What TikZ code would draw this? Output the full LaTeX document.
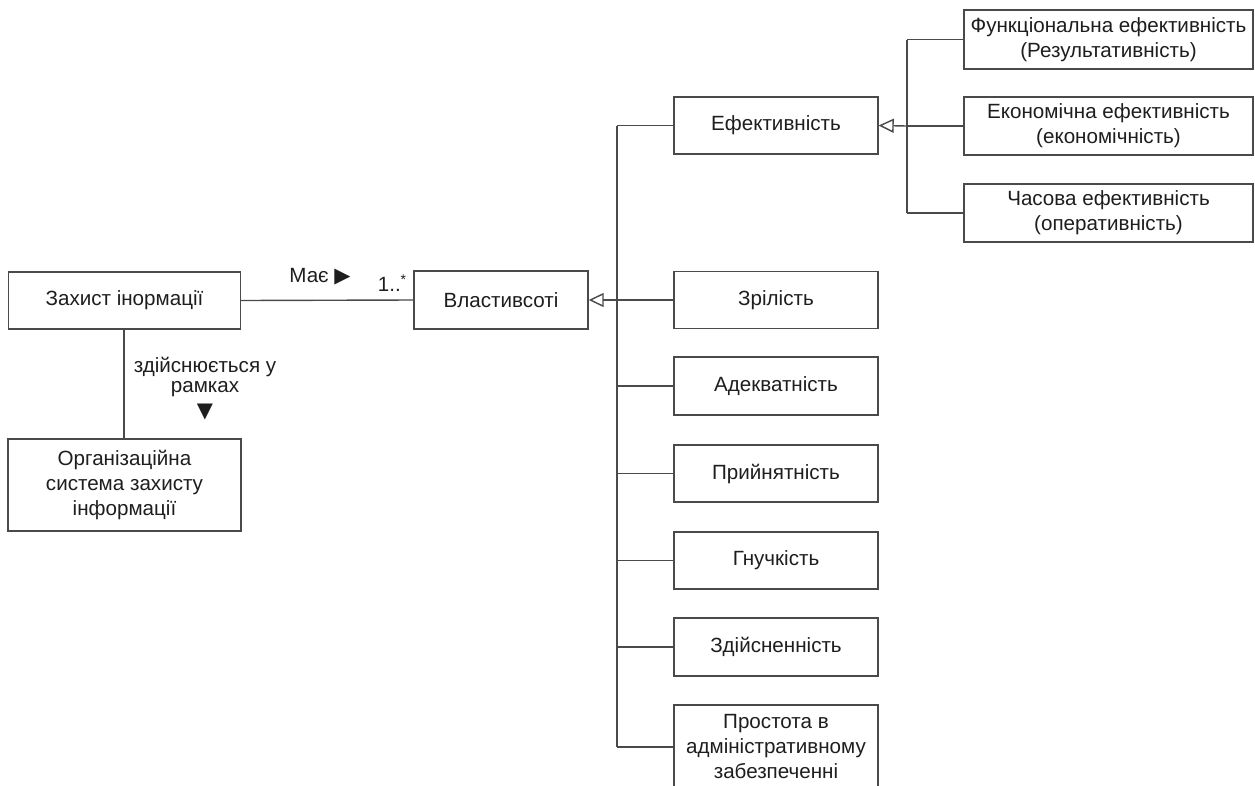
\documentclass[tikz,border=0pt]{standalone}
\usepackage{fontspec}
\setmainfont{Liberation Sans}
\newfontfamily\symfont{DejaVu Sans}
\usetikzlibrary{arrows.meta}
\definecolor{linecol}{HTML}{4A4A4A}
\definecolor{textcol}{HTML}{1E1E1E}
\tikzset{
  box/.style={draw=linecol, line width=1.4pt, fill=white, rectangle, align=center,
    inner sep=0pt, text=textcol, font=\fontsize{20.6}{25}\selectfont},
  conn/.style={draw=linecol, line width=1.4pt},
  gen/.style={conn, -{Triangle[open, length=15pt, width=14pt, line width=1.4pt]}},
  lbl/.style={text=textcol, font=\fontsize{20.6}{25}\selectfont, inner sep=0pt, align=center}
}
\begin{document}
\begin{tikzpicture}[x=1pt,y=-1pt]
\useasboundingbox (0,0) rectangle (1255,785);
\clip (0,0) rectangle (1255,785);
% left part
\node[box, minimum width=232pt, minimum height=57pt] (zakh) at (124.5,300.5) {Захист інормації};
\node[box, minimum width=233pt, minimum height=92pt] (org) at (124.5,485) {Організаційна\\система захисту\\інформації};
\node[box, minimum width=174pt, minimum height=58pt] (vlast) at (501,300) {Властивсоті};
% middle column
\node[box, minimum width=204pt, minimum height=57pt] (efekt) at (776,125.5) {Ефективність};
\node[box, minimum width=204pt, minimum height=57pt] (zril) at (776,300) {Зрілість};
\node[box, minimum width=204pt, minimum height=58pt] (adekv) at (776,386) {Адекватність};
\node[box, minimum width=204pt, minimum height=57pt] (pryin) at (776,473.5) {Прийнятність};
\node[box, minimum width=204pt, minimum height=57pt] (hnuch) at (776,560.5) {Гнучкість};
\node[box, minimum width=204pt, minimum height=58pt] (zdiisn) at (776,647) {Здійсненність};
\node[box, minimum width=204pt, minimum height=84pt] (prost) at (776,747) {Простота в\\адміністративному\\забезпеченні};
% right column
\node[box, minimum width=289pt, minimum height=59pt] (funk) at (1108.5,39.5) {Функціональна ефективність\\(Результативність)};
\node[box, minimum width=289pt, minimum height=58pt] (ekon) at (1108.5,126) {Економічна ефективність\\(економічність)};
\node[box, minimum width=289pt, minimum height=58pt] (chas) at (1108.5,213) {Часова ефективність\\(оперативність)};
% connectors left
\draw[conn] (zakh.east) -- (vlast.west);
\draw[conn] (zakh.south -| 124,0) -- (org.north -| 124,0);
\node[lbl] (mae) at (320,277) {Має {\symfont\fontsize{21}{22}\selectfont ▶}};
\node[lbl, anchor=base] (mult) at (392,291) {1..\raisebox{7pt}{\fontsize{14}{14}\selectfont *}};
\node[lbl] (zd1) at (205,367) {здійснюється у};
\node[lbl] (zd2) at (205,389) {рамках};
\node[lbl] (zd3) at (205,412) {{\symfont\fontsize{21}{22}\selectfont ▼}};
% trunk 1
\coordinate (t1top) at (617,125.5);
\coordinate (t1mid) at (617,300);
\coordinate (t1bot) at (617,747);
\draw[conn] (t1top) -- (t1bot);
\draw[gen] (t1mid) -- (vlast.east);
\draw[conn] (t1top) -- (efekt.west);
\draw[conn] (t1mid) -- (zril.west);
\draw[conn] (adekv.west) -- (adekv.west -| t1top);
\draw[conn] (pryin.west) -- (pryin.west -| t1top);
\draw[conn] (hnuch.west) -- (hnuch.west -| t1top);
\draw[conn] (zdiisn.west) -- (zdiisn.west -| t1top);
\draw[conn] (t1bot) -- (prost.west);
% trunk 2
\coordinate (t2top) at (907,39.5);
\coordinate (t2mid) at (907,126);
\coordinate (t2bot) at (907,213);
\draw[conn] (t2top) -- (t2bot);
\draw[gen] (t2mid) -- (efekt.east);
\draw[conn] (t2top) -- (funk.west);
\draw[conn] (t2mid) -- (ekon.west);
\draw[conn] (t2bot) -- (chas.west);
\end{tikzpicture}
\end{document}
